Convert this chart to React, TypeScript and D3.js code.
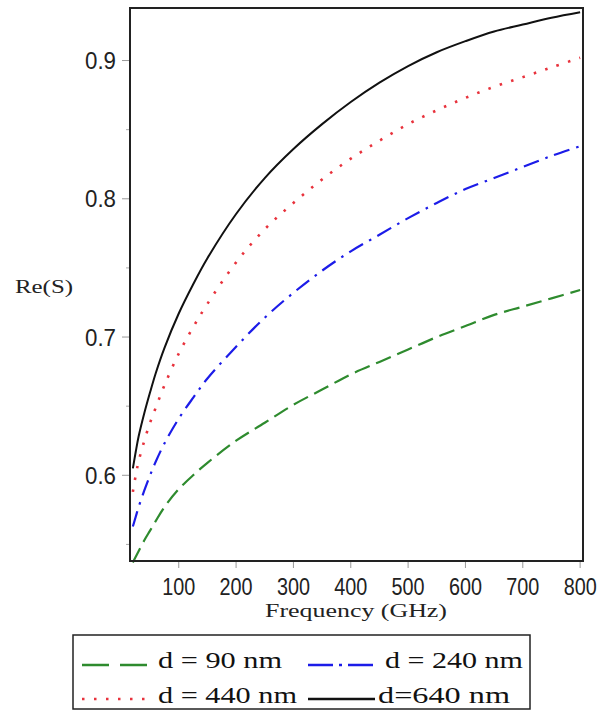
import React from "react";
import * as d3 from "d3";

const freqs = [20, 25, 30, 40, 50, 60, 75, 100, 125, 150, 200, 250, 300, 350, 400, 450, 500, 550, 600, 650, 700, 750, 800];
const d90 = [0.537, 0.541, 0.545, 0.553, 0.56, 0.567, 0.577, 0.59, 0.6, 0.609, 0.625, 0.638, 0.651, 0.662, 0.673, 0.682, 0.691, 0.7, 0.708, 0.716, 0.722, 0.728, 0.734];
const d240 = [0.563, 0.57, 0.577, 0.589, 0.6, 0.61, 0.623, 0.641, 0.656, 0.67, 0.693, 0.714, 0.732, 0.748, 0.762, 0.774, 0.786, 0.797, 0.807, 0.815, 0.823, 0.831, 0.838];
const d440 = [0.588, 0.6, 0.61, 0.625, 0.638, 0.649, 0.665, 0.688, 0.707, 0.724, 0.754, 0.778, 0.797, 0.814, 0.829, 0.842, 0.854, 0.864, 0.873, 0.881, 0.888, 0.895, 0.902];
const d640 = [0.605, 0.617, 0.628, 0.645, 0.66, 0.674, 0.692, 0.717, 0.738, 0.757, 0.789, 0.815, 0.836, 0.854, 0.87, 0.884, 0.896, 0.906, 0.914, 0.921, 0.926, 0.931, 0.935];

const xTicks = [100, 200, 300, 400, 500, 600, 700, 800];
const yTicks = [0.6, 0.7, 0.8, 0.9];
const yMinor = [0.55, 0.65, 0.75, 0.85];
const legendLabels = ["d = 90 nm", "d = 240 nm", "d = 440 nm", "d=640 nm"];

const series = [
  { values: d90, color: "#2e8b2e", dash: "16,7", width: 2.2 },
  { values: d240, color: "#1c1ce8", dash: "16,7,2.5,7", width: 2.2 },
  { values: d440, color: "#e8323c", dash: "2.5,9.5", width: 2.6 },
  { values: d640, color: "#111111", dash: "none", width: 2 },
];

export default function App() {
  const left = 130, right = 583, top = 8, bottom = 561;
  const x = d3.scaleLinear().domain([15, 805]).range([left, right]);
  const y = d3.scaleLinear().domain([0.538, 0.938]).range([bottom, top]);
  const line = d3
    .line<number>()
    .x((_, i) => x(freqs[i]))
    .y((v) => y(v))
    .curve(d3.curveCatmullRom.alpha(0.5));

  const tickFont = "Liberation Sans, Arial, sans-serif";
  const serif = "Liberation Serif, Times New Roman, serif";

  const legendItems = [
    { s: series[0], lx1: 82, lx2: 147, ly: 665, tx: 158, tw: 124, ty: 668, dash: "27,11" },
    { s: series[1], lx1: 308, lx2: 375, ly: 665, tx: 385, tw: 138, ty: 668, dash: "25,6,3,6" },
    { s: series[2], lx1: 82, lx2: 145, ly: 699, tx: 158, tw: 139, ty: 703, dash: "2.5,9.5" },
    { s: series[3], lx1: 308, lx2: 375, ly: 699, tx: 378, tw: 132, ty: 703, dash: "none" },
  ];

  return (
    <svg
      width={601}
      height={711}
      style={{ position: "absolute", left: 0, top: 0, background: "#fff" }}
    >
      <rect x={0} y={0} width={601} height={711} fill="#fff" />
      {yTicks.map((t) => (
        <g key={"yt" + t}>
          <line x1={122} x2={left} y1={y(t)} y2={y(t)} stroke="#999" strokeWidth={1} />
          <text
            x={85}
            y={y(t) + 8.5}
            fontFamily={tickFont}
            fontSize={23}
            textLength={31}
            lengthAdjust="spacingAndGlyphs"
            fill="#222"
          >
            {t.toFixed(1)}
          </text>
        </g>
      ))}
      {yMinor.map((t) => (
        <line key={"ym" + t} x1={126} x2={left} y1={y(t)} y2={y(t)} stroke="#aaa" strokeWidth={1} />
      ))}
      {xTicks.map((t) => (
        <g key={"xt" + t}>
          <line x1={x(t)} x2={x(t)} y1={bottom} y2={bottom + 7} stroke="#999" strokeWidth={1} />
          <text
            x={x(t) - 16.5}
            y={595}
            fontFamily={tickFont}
            fontSize={23}
            textLength={33}
            lengthAdjust="spacingAndGlyphs"
            fill="#222"
          >
            {String(t)}
          </text>
        </g>
      ))}
      {series.map((s, i) => (
        <path
          key={"s" + i}
          d={line(s.values) || ""}
          fill="none"
          stroke={s.color}
          strokeWidth={s.width}
          strokeDasharray={s.dash}
        />
      ))}
      <rect x={left} y={top} width={right - left} height={bottom - top} fill="none" stroke="#222" strokeWidth={2} />
      <text
        x={265}
        y={617}
        fontFamily={serif}
        fontSize={19}
        textLength={182}
        lengthAdjust="spacingAndGlyphs"
        fill="#222"
      >
        Frequency (GHz)
      </text>
      <text
        x={15}
        y={293}
        fontFamily={serif}
        fontSize={19}
        textLength={58}
        lengthAdjust="spacingAndGlyphs"
        fill="#222"
      >
        Re(S)
      </text>
      <rect x={73} y={635} width={457} height={74} fill="#fff" stroke="#222" strokeWidth={1.5} />
      {legendItems.map((it, i) => (
        <g key={"lg" + i}>
          <line
            x1={it.lx1}
            x2={it.lx2}
            y1={it.ly}
            y2={it.ly}
            stroke={it.s.color}
            strokeWidth={2.6}
            strokeDasharray={it.dash}
          />
          <text
            x={it.tx}
            y={it.ty}
            fontFamily={serif}
            fontSize={24}
            textLength={it.tw}
            lengthAdjust="spacingAndGlyphs"
            fill="#111"
          >
            {legendLabels[i]}
          </text>
        </g>
      ))}
    </svg>
  );
}
